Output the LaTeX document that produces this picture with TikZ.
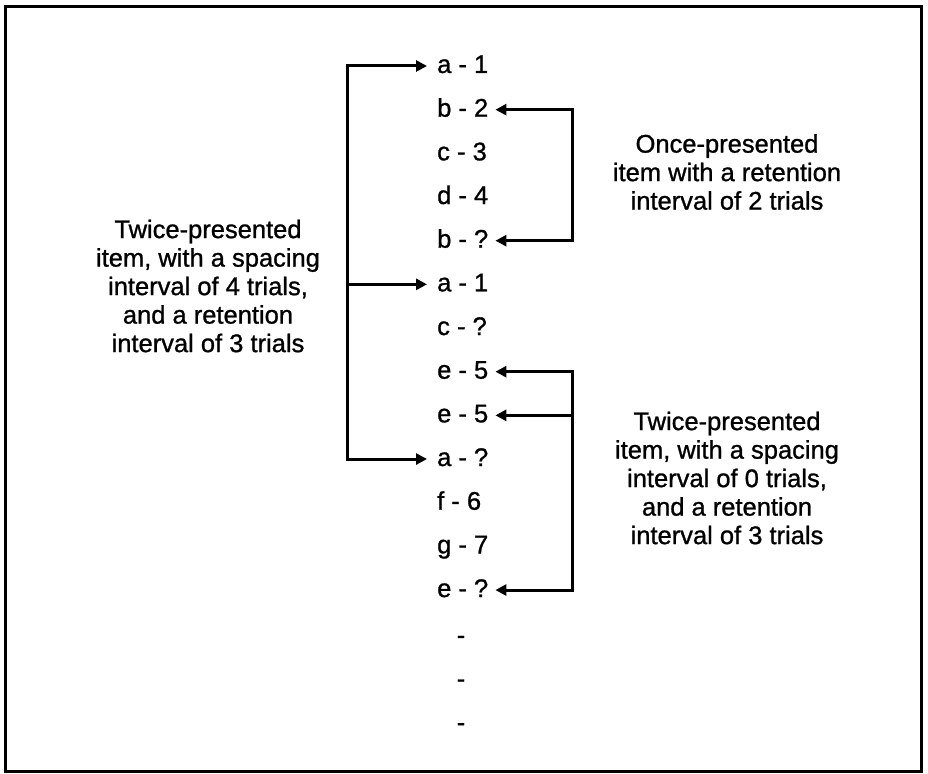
\documentclass[tikz,border=0pt]{standalone}
\usepackage{fontspec}
\setmainfont{Liberation Sans}[FakeBold=1]
\usetikzlibrary{arrows.meta}
\begin{document}
\begin{tikzpicture}[x=1pt,y=-1pt,
  every node/.style={font=\fontsize{25.5}{28.5}\selectfont},
  trial/.style={anchor=west, inner sep=0pt, text height=14pt, text depth=0pt},
  gap/.style={anchor=center, inner sep=0pt, text height=14pt, text depth=0pt},
  note/.style={align=center, inner sep=0pt},
  conn/.style={line width=3pt, line join=miter},
  tip/.tip={Triangle[length=11pt,width=11pt]}]
  \useasboundingbox (0,0) rectangle (928,773);
  \draw[line width=3pt] (5.5,6.5) rectangle (921.5,771);

  % list of study and test trials
  \foreach \i/\t in {1/a - 1, 2/b - 2, 3/c - 3, 4/d - 4, 5/b - ?, 6/a - 1,
                     7/c - ?, 8/e - 5, 9/e - 5, 10/a - ?, 11/f - 6, 12/g - 7, 13/e - ?}
    \node[trial] (r\i) at (437, {66+43.67*(\i-1)}) {\t};
  \foreach \i in {1,2,3}
    \node[gap] (d\i) at (461, {590+43.67*\i+3}) {-};

  % left bracket: item a
  \coordinate (L1) at (347, 0 |- r1.west);
  \coordinate (L6) at (347, 0 |- r6.west);
  \coordinate (L10) at (347, 0 |- r10.west);
  \draw[conn, tip-tip] ([xshift=-10pt]r10.west) -- (L10) -- (L1) -- ([xshift=-10pt]r1.west);
  \draw[conn, -tip] (L6) -- ([xshift=-10pt]r6.west);

  % right bracket: item b
  \coordinate (R2) at (572, 0 |- r2.east);
  \coordinate (R5) at (572, 0 |- r5.east);
  \draw[conn, tip-tip] ([xshift=7pt]r2.east) -- (R2) -- (R5) -- ([xshift=7pt]r5.east);

  % right bracket: item e
  \coordinate (R8) at (572, 0 |- r8.east);
  \coordinate (R9) at (572, 0 |- r9.east);
  \coordinate (R13) at (572, 0 |- r13.east);
  \draw[conn, tip-tip] ([xshift=7pt]r8.east) -- (R8) -- (R13) -- ([xshift=7pt]r13.east);
  \draw[conn, -tip] (R9) -- ([xshift=7pt]r9.east);

  % descriptions
  \node[note] (nA) at (208, 286) {Twice-presented\\item, with a spacing\\interval of 4 trials,\\and a retention\\interval of 3 trials};
  \node[note] (nB) at (727, 172) {Once-presented\\item with a retention\\interval of 2 trials};
  \node[note] (nE) at (727, 478) {Twice-presented\\item, with a spacing\\interval of 0 trials,\\and a retention\\interval of 3 trials};
\end{tikzpicture}
\end{document}
